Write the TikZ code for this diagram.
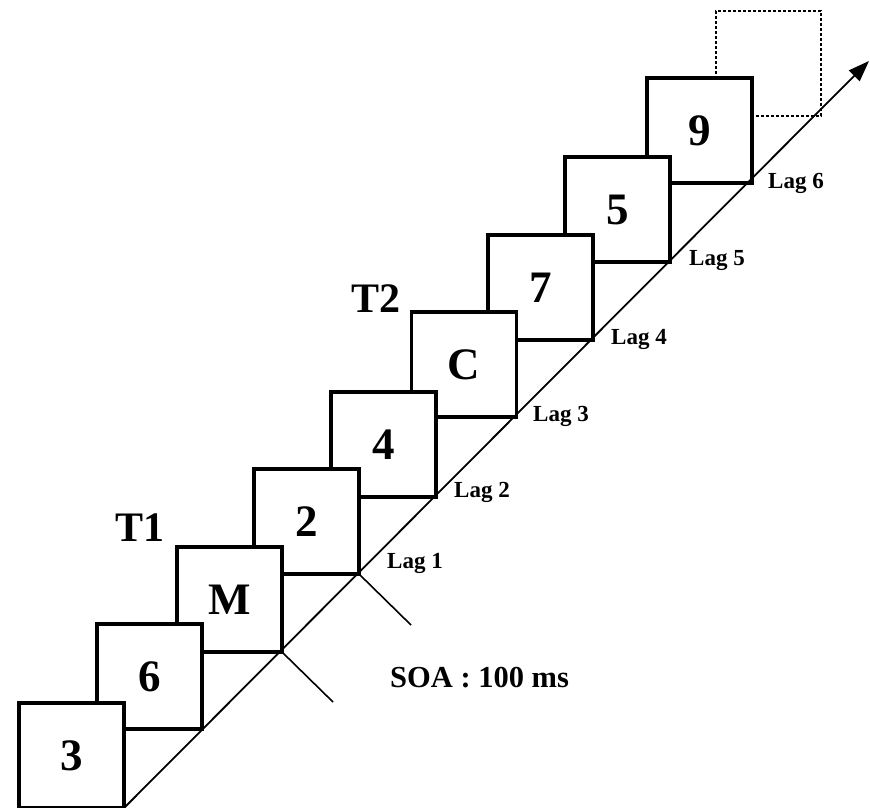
\documentclass[tikz,border=0pt]{standalone}
\usepackage{fontspec}
\setmainfont{Liberation Serif}
\usetikzlibrary{arrows.meta}
\begin{document}
\begin{tikzpicture}[x=1pt,y=-1pt,
  sq/.style={draw, fill=white, line width=3.4pt, minimum size=105pt, inner sep=0pt, outer sep=0pt,
    font=\fontsize{45}{50}\selectfont\bfseries},
  ghost/.style={draw, line width=2.8pt, dash pattern=on 3pt off 2pt, minimum size=105pt, inner sep=0pt, outer sep=0pt},
  lag/.style={anchor=west, inner sep=0pt, font=\fontsize{23}{26}\selectfont\bfseries},
  tlab/.style={inner sep=0pt, font=\fontsize{42}{48}\selectfont\bfseries},
  axis/.style={line width=1.8pt},
  tick/.style={line width=1.6pt}]
\useasboundingbox (0,0) rectangle (870,808);
% dotted (next) frame
\node[ghost] (g) at (768.5,63.5) {};
% frames, latest first so earlier ones lie on top
\node[sq] (s8) at (752-52.5,183-52.5) {9};
\node[sq] (s7) at (670-52.5,262-52.5) {5};
\node[sq] (s6) at (593-52.5,340-52.5) {7};
\node[sq] (s5) at (516.5-52.5,417-52.5) {C};
\node[sq] (s4) at (436-52.5,497-52.5) {4};
\node[sq] (s3) at (359-52.5,574-52.5) {2};
\node[sq] (s2) at (282-52.5,652-52.5) {M};
\node[sq] (s1) at (202-52.5,729-52.5) {6};
\node[sq] (s0) at (124-52.5,808-52.5) {3};
% time axis
\coordinate (tip) at (869,61);
\draw[axis, -{Triangle[length=21pt,width=15pt]}] (s0.south east) -- (tip);
% SOA ticks
\coordinate (c1) at (333,702);
\coordinate (c2) at (411,625);
\draw[tick] (s2.south east) -- (c1);
\draw[tick] (s3.south east) -- (c2);
% labels
\node[tlab] (t1) at (140,528) {T1};
\node[tlab] (t2) at (376,299) {T2};
\node[lag] (l1) at (387,563) {Lag 1};
\node[lag] (l2) at (454,492) {Lag 2};
\node[lag] (l3) at (533,416) {Lag 3};
\node[lag] (l4) at (611,339) {Lag 4};
\node[lag] (l5) at (689,261) {Lag 5};
\node[lag] (l6) at (768,183) {Lag 6};
\node[anchor=west, inner sep=0pt, font=\fontsize{30.5}{34}\selectfont\bfseries] (soa) at (390,678) {SOA : 100 ms};
\end{tikzpicture}
\end{document}
